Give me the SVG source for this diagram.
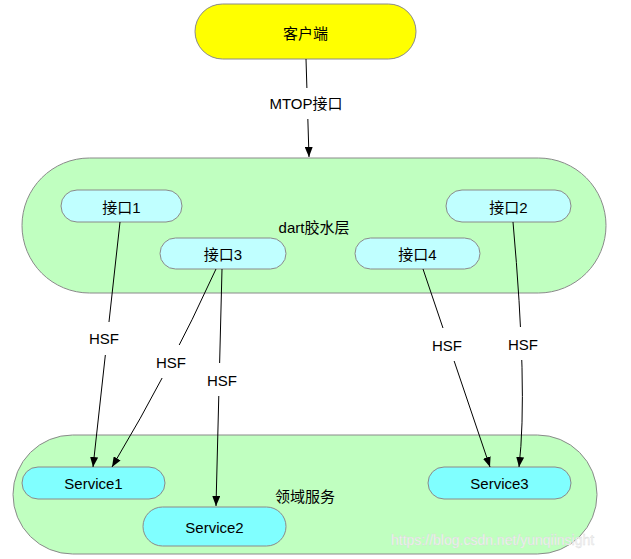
<svg xmlns="http://www.w3.org/2000/svg" width="631" height="559" viewBox="0 0 631 559">
<style>
text{font-family:"Liberation Sans","Noto Sans CJK SC",sans-serif;font-size:15px;fill:#000;text-anchor:middle;dominant-baseline:central}
.shape{stroke:#8a8a8a;stroke-width:1}
.edge{fill:none;stroke:#000;stroke-width:1}
.lbg{fill:#fff}
.wm{font-size:14px;fill:#f4f4f4;stroke:#d8d8d8;stroke-width:0.3;text-anchor:start}
</style>
<defs>
<marker id="arr" markerUnits="userSpaceOnUse" markerWidth="10" markerHeight="8" refX="10" refY="4" orient="auto">
<path d="M0,0 L10,4 L0,8 z" fill="#000"/>
</marker>
</defs>
<rect width="631" height="559" fill="#fff"/>
<g id="layer-dart">
<rect class="shape" x="22" y="158" width="584" height="135" rx="67.5" fill="#c0ffc0"/>
<text x="314" y="227">dart胶水层</text>
</g>
<g id="layer-domain">
<rect class="shape" x="13" y="435" width="584" height="119" rx="59.5" fill="#c0ffc0"/>
<text x="305" y="496">领域服务</text>
</g>
<g id="client">
<rect class="shape" x="195" y="4" width="221" height="55" rx="27.5" fill="#ffff00"/>
<text x="305.5" y="33">客户端</text>
</g>
<g id="api1">
<rect class="shape" x="61" y="190" width="121" height="32" rx="16" fill="#c0ffff"/>
<text x="121.5" y="207">接口1</text>
</g>
<g id="api2">
<rect class="shape" x="446" y="190" width="125" height="32" rx="16" fill="#c0ffff"/>
<text x="508.5" y="207">接口2</text>
</g>
<g id="api3">
<rect class="shape" x="160" y="238" width="126" height="31" rx="15.5" fill="#c0ffff"/>
<text x="223" y="254">接口3</text>
</g>
<g id="api4">
<rect class="shape" x="355" y="238" width="125" height="31" rx="15.5" fill="#c0ffff"/>
<text x="417.5" y="254">接口4</text>
</g>
<g id="service1">
<rect class="shape" x="22" y="467" width="143" height="32" rx="16" fill="#80ffff"/>
<text x="93.5" y="483">Service1</text>
</g>
<g id="service2">
<rect class="shape" x="143" y="507" width="143" height="39" rx="19.5" fill="#80ffff"/>
<text x="214.5" y="527">Service2</text>
</g>
<g id="service3">
<rect class="shape" x="428" y="467" width="143" height="32" rx="16" fill="#80ffff"/>
<text x="499.5" y="483">Service3</text>
</g>
<g id="connectors">
<path class="edge" d="M306,59 L309,157" marker-end="url(#arr)"/>
<rect class="lbg" x="264" y="88" width="84" height="31"/>
<text x="306" y="103">MTOP接口</text>
<path class="edge" d="M120,222 L93,467" marker-end="url(#arr)"/>
<rect class="lbg" x="86" y="322" width="36" height="33"/>
<text x="104" y="338">HSF</text>
<path class="edge" d="M216,269 Q170,370 112,467" marker-end="url(#arr)"/>
<rect class="lbg" x="153" y="345" width="36" height="33"/>
<text x="171" y="362">HSF</text>
<path class="edge" d="M222,269 L216,506" marker-end="url(#arr)"/>
<rect class="lbg" x="204" y="363" width="36" height="33"/>
<text x="222" y="380">HSF</text>
<path class="edge" d="M423,269 L490,467" marker-end="url(#arr)"/>
<rect class="lbg" x="429" y="328" width="36" height="33"/>
<text x="447" y="345">HSF</text>
<path class="edge" d="M513,222 Q528,390 519,467" marker-end="url(#arr)"/>
<rect class="lbg" x="505" y="327" width="36" height="33"/>
<text x="523" y="344">HSF</text>
</g>
<text class="wm" x="391" y="540">https://blog.csdn.net/yunqiinsight</text>
</svg>
